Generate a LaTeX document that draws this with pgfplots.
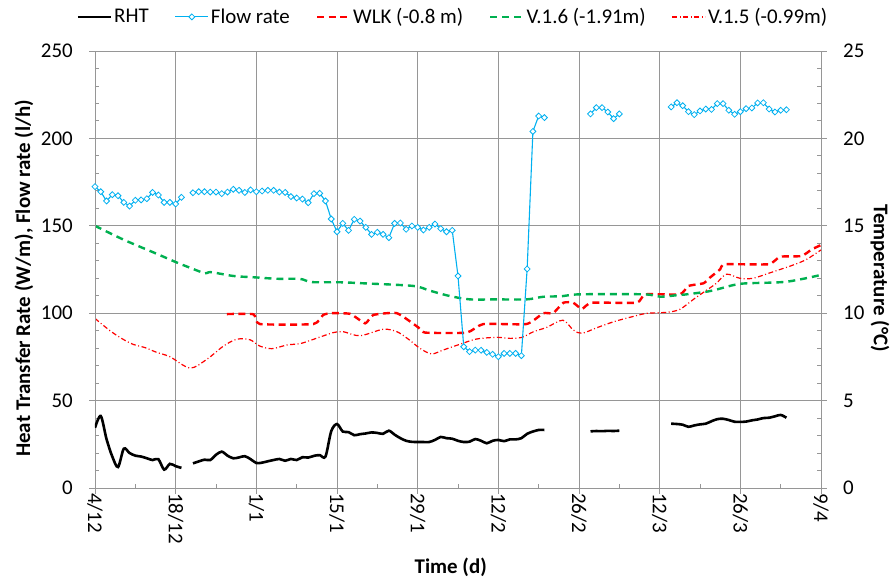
\documentclass[border=0pt]{standalone}
\usepackage{fontspec}
\setmainfont{Carlito}
\usepackage{pgfplots}
\pgfplotsset{compat=1.18}
\usepackage{pgfplotstable}

\definecolor{flowblue}{RGB}{0,176,240}
\definecolor{vgreen}{RGB}{0,176,80}
\definecolor{axisgray}{RGB}{150,150,150}

% Flow rate (l/h), daily readings; nan marks missing days
\pgfplotstableread{
day q
0 172.4
1 169.5
2 164.2
3 167.8
4 167.2
5 163.4
6 161.3
7 164.6
8 164.8
9 165.5
10 169.1
11 167.6
12 163.4
13 163.4
14 162.5
15 166.3
16 nan
17 168.9
18 169.5
19 169.5
20 169.3
21 169.3
22 168.4
23 169.3
24 170.9
25 170.3
26 169.1
27 170.5
28 169.5
29 169.9
30 170.3
31 170.3
32 169.3
33 169.1
34 166.7
35 165.9
36 165.3
37 163.2
38 168.4
39 168.6
40 164.2
41 153.9
42 146.6
43 151.4
44 147.4
45 153.7
46 152.7
47 149.1
48 145.1
49 146.3
50 145.1
51 143.2
52 151.4
53 151.6
54 148.0
55 149.9
56 149.1
57 147.6
58 149.1
59 151.0
60 148.4
61 146.6
62 147.4
63 121.3
64 80.8
65 78.0
66 78.9
67 78.8
68 77.6
69 76.5
70 75.1
71 77.0
72 77.0
73 77.0
74 75.7
75 125.3
76 204.0
77 212.8
78 211.9
79 nan
86 214.0
87 217.6
88 217.6
89 215.1
90 211.3
91 214.0
92 nan
100 218.0
101 220.4
102 218.7
103 215.3
104 213.6
105 215.7
106 216.8
107 216.6
108 219.9
109 219.9
110 216.1
111 213.8
112 215.3
113 217.0
114 217.4
115 220.3
116 220.4
117 216.8
118 215.1
119 216.1
120 216.4
}\flowtab

% Heat transfer rate RHT (W/m)
\pgfplotstableread{
day q
0 34.5
1 41.2
2 28
3 18
4 12
5 22.5
6 20
7 18.5
8 18
9 17
10 16
11 16.5
12 10.5
13 13.8
14 12.5
15 11.5
16 nan
17 14.1
18 15.2
19 16.2
20 16
21 19
22 20.8
23 18.5
24 17
25 17.5
26 18.2
27 16.5
28 14.3
29 14.5
30 15.3
31 16
32 16.6
33 15.6
34 16.6
35 16
36 17.6
37 17.4
38 18.4
39 18.8
40 18
41 32.5
42 36.6
43 32.3
44 32
45 30.2
46 30.8
47 31.2
48 31.8
49 31.5
50 31
51 32.8
52 30.5
53 28.5
54 27
55 26.4
56 26.3
57 26.3
58 26.3
59 27.5
60 29.2
61 28.5
62 28.2
63 27
64 26.3
65 26.5
66 28
67 27
68 25.6
69 27
70 27.5
71 26.8
72 27.8
73 27.8
74 28.5
75 31
76 32.3
77 33.2
78 33.2
79 nan
86 32.4
87 32.6
88 32.5
89 32.7
90 32.6
91 32.8
92 nan
100 36.8
101 36.6
102 36.2
103 35
104 35.8
105 36.4
106 36.8
107 38.2
108 39.4
109 39.6
110 38.9
111 37.9
112 37.8
113 38
114 38.7
115 39.2
116 40
117 40.2
118 41
119 41.8
120 40.2
}\rhttab

% Ground temperature WLK (-0.8 m), degC
\pgfplotstableread{
day t
22.9 9.95
27.5 9.94
28.6 9.38
37.9 9.38
39.6 9.9
41 10.0
44.3 9.96
46.9 9.42
48.3 9.9
52.4 10.0
56.1 9.19
57.3 8.89
64.5 8.89
67.4 9.38
74.9 9.38
77.8 10.0
79.5 10.0
81.3 10.6
83 10.6
84.5 10.24
86.2 10.6
94 10.6
95.5 11.08
101.5 11.08
103 11.56
105.6 11.71
106.7 12.03
108.5 12.51
109.3 12.8
116.9 12.8
118.9 13.23
122.6 13.27
124.4 13.65
126 13.9
}\wlktab

% Ground temperature V.1.6 (-1.91 m), degC
\pgfplotstableread{
day t
0 15.0
5 14.2
10.7 13.4
14.2 12.9
16.5 12.6
19.1 12.28
20.1 12.35
24 12.13
27.8 12.05
31.5 11.97
35.6 11.96
37.6 11.78
42.5 11.77
46.6 11.71
55.2 11.56
58.1 11.29
61.6 10.98
65.1 10.79
69.7 10.79
74.9 10.79
77.8 10.94
81 10.97
84.2 11.08
95.2 11.08
98.1 10.94
100.7 11.02
102.7 11.08
106.8 11.27
110.8 11.61
113.1 11.71
120 11.8
126 12.19
}\vsixtab

% Ground temperature V.1.5 (-0.99 m), degC
\pgfplotstableread{
day t
0 9.7
2.6 9.0
4.6 8.56
6.6 8.22
8.7 8.03
10.7 7.76
13 7.51
16.5 6.86
19.4 7.36
22.3 8.12
24.6 8.51
26.9 8.48
28.6 8.12
30.7 7.97
33.3 8.18
35.6 8.26
37.6 8.47
39.6 8.7
41.5 8.9
43.1 8.94
46 8.71
50 9.08
52.4 8.94
54.4 8.51
56.4 7.99
58.4 7.67
60.4 7.89
63.3 8.22
66.2 8.52
69.7 8.62
72 8.56
74.1 8.62
76.1 8.94
78.4 9.19
81.2 9.6
83 9.04
84.5 8.85
87.1 9.17
90 9.51
92.9 9.77
95.7 9.99
99.2 10.05
101.5 10.22
103.9 10.8
106.2 11.33
107.8 11.7
109.6 12.23
111.9 12.0
114.2 12.0
117.7 12.37
121.2 12.76
123.5 13.08
126 13.62
}\vfivetab

\pgfplotsset{
  common/.style={
    scale only axis, width=726bp, height=437bp,
    xmin=0, xmax=126,
    font=\fontsize{21}{25}\selectfont,
    /pgf/number format/assume math mode=true,
    axis line style={axisgray, line width=0.9bp},
    tick align=inside,
    major tick length=-6bp,
    minor tick length=4.5bp,
    every tick/.style={axisgray, line width=0.9bp},
    unbounded coords=jump,
  },
}

\begin{document}
\begin{tikzpicture}
\useasboundingbox (-95bp,-92bp) rectangle (797bp,488bp);

% right axis: temperatures, grid and time axis
\begin{axis}[common,
  ymin=0, ymax=25,
  xtick={0,14,...,126},
  xticklabels={4/12,18/12,1/1,15/1,29/1,12/2,26/2,12/3,26/3,9/4},
  minor x tick num=1,
  ytick={0,5,...,25},
  minor y tick num=4,
  xtick pos=left, ytick pos=right, yticklabel pos=right,
  grid=major,
  major grid style={axisgray, line width=0.9bp},
  xticklabel style={rotate=-90, anchor=west, inner xsep=5bp, inner ysep=0pt},
  yticklabel style={anchor=west, inner sep=0pt, xshift=22bp},
  xlabel={\textbf{Time (d)}},
  xlabel style={at={(axis description cs:0.49,-0.181)}, anchor=center},
  ylabel={\textbf{Temperature (°C)}},
  ylabel style={at={(axis description cs:1.0813,0.48)}, anchor=center, rotate=180},
]
\addplot[red, line width=2.4bp, dash pattern=on 7bp off 4.5bp, smooth, tension=0.3]
  table[x=day, y=t] {\wlktab};
\addplot[vgreen, line width=2.4bp, dash pattern=on 7bp off 5bp, smooth, tension=0.5]
  table[x=day, y=t] {\vsixtab};
\addplot[red, line width=1.2bp, dash pattern=on 5bp off 2.5bp on 1bp off 2.5bp, smooth, tension=0.5]
  table[x=day, y=t] {\vfivetab};
\end{axis}

% left axis: heat transfer rate and flow rate
\begin{axis}[common,
  ymin=0, ymax=250,
  hide x axis,
  axis y line*=left,
  ytick={0,50,...,250},
  minor y tick num=4,
  yticklabel style={anchor=east, inner sep=0pt, xshift=-22bp},
  ylabel={\textbf{Heat Transfer Rate (W/m), Flow rate (l/h)}},
  ylabel style={at={(axis description cs:-0.0978,0.48)}, anchor=center},
  legend columns=-1,
  legend style={at={(axis description cs:0.493,1.078)}, anchor=center,
    draw=none, fill=none,
    /tikz/every even column/.append style={column sep=24bp},
    nodes={inner xsep=2bp, inner ysep=1bp}},
  legend image code/.code={\draw[mark repeat=2,mark phase=2]
    plot coordinates {(0bp,0bp) (16.5bp,0bp) (33bp,0bp)};},
]
\addplot[black, line width=2.6bp, smooth, tension=0.5]
  table[x=day, y=q] {\rhttab};
\addlegendentry{RHT}
\addplot[flowblue, line width=1.1bp, mark=square*, mark size=2.1bp,
  mark options={rotate=45, fill=white, line width=0.8bp}]
  table[x=day, y=q] {\flowtab};
\addlegendentry{Flow rate}
\addlegendimage{red, line width=2.4bp, dash pattern=on 7bp off 4.5bp}
\addlegendentry{WLK (-0.8 m)}
\addlegendimage{vgreen, line width=2.4bp, dash pattern=on 7bp off 5bp}
\addlegendentry{V.1.6 (-1.91m)}
\addlegendimage{red, line width=1.2bp, dash pattern=on 5bp off 2.5bp on 1bp off 2.5bp}
\addlegendentry{V.1.5 (-0.99m)}
\end{axis}
\end{tikzpicture}
\end{document}
